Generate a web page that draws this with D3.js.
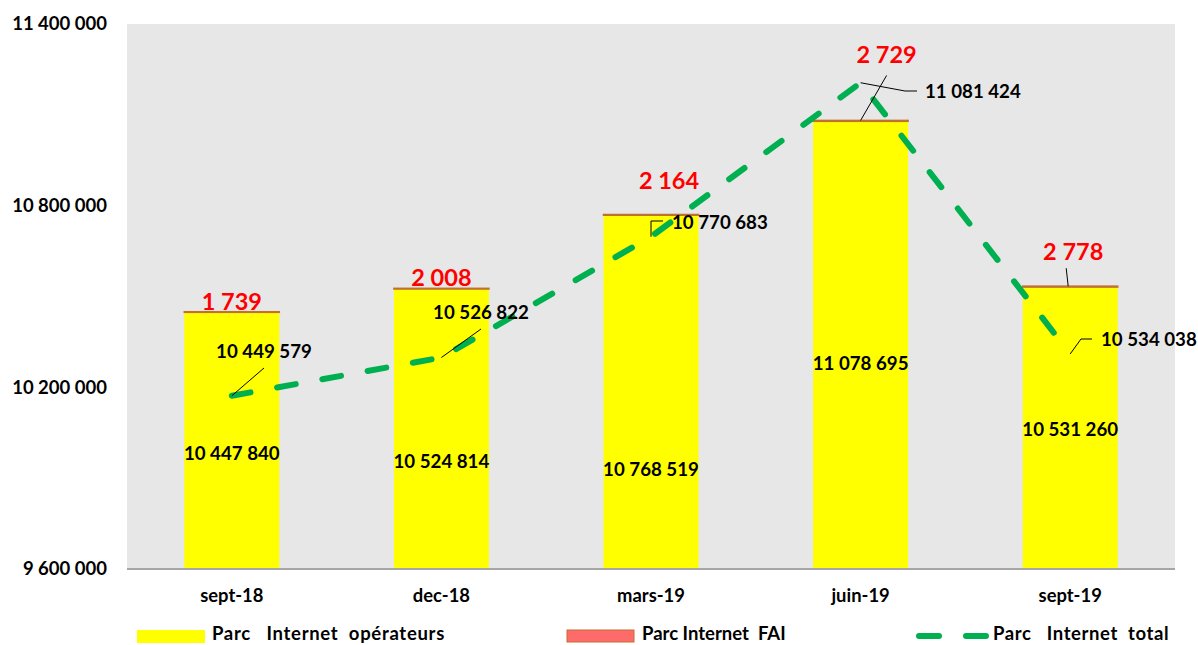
<!DOCTYPE html>
<html>
<head>
<meta charset="utf-8">
<script src="https://cdn.jsdelivr.net/npm/d3@7"></script>
<style>
  body { margin: 0; background: #fff; }
  svg text { font-family: Lato, "Open Sans", sans-serif; font-weight: bold; }
</style>
</head>
<body>
<svg id="mainsvg" width="1198" height="645"></svg>
<script>
// data
let categories = ["sept-18", "dec-18", "mars-19", "juin-19", "sept-19"];
let parcOperateurs = [10447840, 10524814, 10768519, 11078695, 10531260];
let parcFAI = [1739, 2008, 2164, 2729, 2778];
let parcTotal = [10449579, 10526822, 10770683, 11081424, 10534038];
let yTicks = [9600000, 10200000, 10800000, 11400000];

let fmt = v => d3.format(",")(v).replace(/,/g, " ");

let svg = d3.select("#mainsvg");
let plotLeft = 127, plotRight = 1175, plotTop = 24, plotBottom = 569;

let x = d3.scaleBand().domain(categories).range([plotLeft, plotRight]).paddingInner(0.547).paddingOuter(0.2735);
let y = d3.scaleLinear().domain([9600000, 11400000]).range([plotBottom, plotTop]);
// secondary axis (hidden) for the total line
let y2 = d3.scaleLinear().domain([10100000, 11200000]).range([plotBottom, plotTop]);

// plot background
svg.append("rect")
    .attr("x", plotLeft).attr("y", plotTop)
    .attr("width", plotRight - plotLeft).attr("height", plotBottom - plotTop)
    .attr("fill", "#E7E7E7");

// bars - operators
svg.selectAll(".bar-op").data(categories).enter()
    .append("rect")
    .attr("class", "bar-op")
    .attr("x", d => x(d))
    .attr("width", x.bandwidth())
    .attr("y", (d, i) => y(parcOperateurs[i]))
    .attr("height", (d, i) => plotBottom - y(parcOperateurs[i]))
    .attr("fill", "#FFFF00");

// bars - FAI (stacked)
svg.selectAll(".bar-fai").data(categories).enter()
    .append("rect")
    .attr("class", "bar-fai")
    .attr("x", d => x(d))
    .attr("width", x.bandwidth())
    .attr("y", (d, i) => y(parcOperateurs[i] + parcFAI[i]))
    .attr("height", (d, i) => Math.max(0.5, y(parcOperateurs[i]) - y(parcOperateurs[i] + parcFAI[i])))
    .attr("fill", "#FF6B6B")
    .attr("stroke", "#C0702F")
    .attr("stroke-width", 1.6);

// x axis line
svg.append("line")
    .attr("x1", plotLeft).attr("x2", plotRight)
    .attr("y1", plotBottom).attr("y2", plotBottom)
    .attr("stroke", "#A6A6A6").attr("stroke-width", 2);

// y axis labels
svg.selectAll(".ytick").data(yTicks).enter()
    .append("text")
    .attr("class", "ytick")
    .attr("x", 107)
    .attr("y", d => y(d))
    .attr("dy", "0.35em")
    .attr("text-anchor", "end")
    .attr("font-size", 18.5)
    .text(d => fmt(d));

// category labels
svg.selectAll(".xlab").data(categories).enter()
    .append("text")
    .attr("class", "xlab")
    .attr("x", d => x(d) + x.bandwidth() / 2)
    .attr("y", 602)
    .attr("text-anchor", "middle")
    .attr("font-size", 18.4)
    .text(d => d);

// total line
let line = d3.line()
    .x((d, i) => x(categories[i]) + x.bandwidth() / 2)
    .y(d => y2(d));
svg.append("path")
    .datum(parcTotal)
    .attr("d", line)
    .attr("fill", "none")
    .attr("stroke", "#00B050")
    .attr("stroke-width", 6)
    .attr("stroke-linecap", "round")
    .attr("stroke-dasharray", "19 27");

// label placement tweaks (manual positions in the original chart)
let opLabelY = [453, 461, 469, 363, 429];
let faiLabelDx = [0, 0, 18, 26, 3];
let faiLabelDy = [-2, -2, -26, -57, -26];
let totLabelPos = [[264, 351, "middle"], [481, 312, "middle"], [672, 222, "start"], [925, 91, "start"], [1101, 339, "start"]];

let cx = i => x(categories[i]) + x.bandwidth() / 2;

// operators labels
svg.selectAll(".op-lab").data(parcOperateurs).enter()
    .append("text")
    .attr("class", "op-lab")
    .attr("x", (d, i) => cx(i))
    .attr("y", (d, i) => opLabelY[i])
    .attr("dy", "0.35em")
    .attr("text-anchor", "middle")
    .attr("font-size", 18.7)
    .text(d => fmt(d));

// FAI labels
svg.selectAll(".fai-lab").data(parcFAI).enter()
    .append("text")
    .attr("class", "fai-lab")
    .attr("x", (d, i) => cx(i) + faiLabelDx[i])
    .attr("y", (d, i) => y(parcOperateurs[i] + parcFAI[i]) + faiLabelDy[i])
    .attr("text-anchor", "middle")
    .attr("font-size", 23.5)
    .attr("fill", "#FF0000")
    .text(d => fmt(d));

// FAI leader lines (juin-19, sept-19)
let faiTop = i => y(parcOperateurs[i] + parcFAI[i]);
svg.append("polyline")
    .attr("points", [[cx(3), faiTop(3)], [cx(3) + 26, faiTop(3) - 45]].join(" "))
    .attr("fill", "none").attr("stroke", "#000").attr("stroke-width", 1);
svg.append("polyline")
    .attr("points", [[cx(4) - 2, faiTop(4)], [cx(4) - 4, faiTop(4) - 18]].join(" "))
    .attr("fill", "none").attr("stroke", "#000").attr("stroke-width", 1);

// total labels
svg.selectAll(".tot-lab").data(parcTotal).enter()
    .append("text")
    .attr("class", "tot-lab")
    .attr("x", (d, i) => totLabelPos[i][0])
    .attr("y", (d, i) => totLabelPos[i][1])
    .attr("dy", "0.35em")
    .attr("text-anchor", (d, i) => totLabelPos[i][2])
    .attr("font-size", 18.7)
    .text(d => fmt(d));

// total leader lines
let pt = i => [cx(i), y2(parcTotal[i])];
let leaders = [
    [pt(0), [264, 368]],
    [pt(1), [481, 329]],
    [pt(2), [pt(2)[0], 221], [663, 221]],
    [pt(3), [905, 91], [917, 91]],
    [pt(4), [1081, 339], [1092, 339]]
];
svg.selectAll(".leader").data(leaders).enter()
    .append("polyline")
    .attr("class", "leader")
    .attr("points", d => d.join(" "))
    .attr("fill", "none")
    .attr("stroke", "#000")
    .attr("stroke-width", 1);

// legend
let legend = svg.append("g");
let legendText = (x0, label, ls) => legend.append("text")
    .attr("x", x0).attr("y", 640).attr("font-size", 18.5)
    .attr("xml:space", "preserve").style("white-space", "pre")
    .style("letter-spacing", ls + "px")
    .text(label);
legend.append("rect").attr("x", 137).attr("y", 630).attr("width", 68).attr("height", 13).attr("fill", "#FFFF00");
legendText(212, "Parc   Internet  opérateurs", 0.7);
legend.append("rect").attr("x", 567).attr("y", 630).attr("width", 67).attr("height", 12)
    .attr("fill", "#FF6B6B").attr("stroke", "#C0702F").attr("stroke-width", 1);
legendText(642, "Parc Internet  FAI", 0);
legend.append("line").attr("x1", 919).attr("x2", 986).attr("y1", 636).attr("y2", 636)
    .attr("stroke", "#00B050").attr("stroke-width", 6).attr("stroke-linecap", "round")
    .attr("stroke-dasharray", "20 27");
legendText(993, "Parc   Internet  total", 0.6);
</script>
</body>
</html>
